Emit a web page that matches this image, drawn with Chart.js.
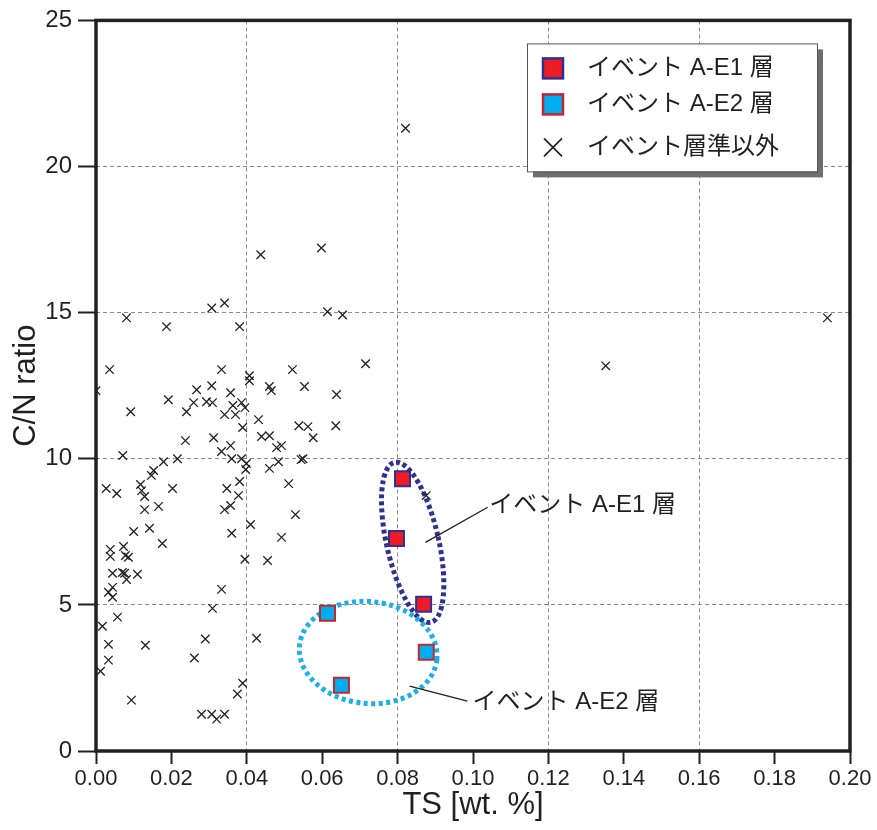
<!DOCTYPE html>
<html><head><meta charset="utf-8">
<script src="https://cdn.jsdelivr.net/npm/chart.js@4"></script>
<style>html,body{margin:0;padding:0;background:#fff}#wrap{width:877px;height:830px}</style>
</head><body><div id="wrap"><canvas id="c" width="877" height="830"></canvas></div>
<script>
// ---- data ----
const otherTS = [0.0821,0.194,0.1352,0.0598,0.0437,0.0614,0.0654,0.0307,0.0341,0.0081,0.0187,0.0381,0.0036,0.0333,0.0407,0.0407,0.046,0.0465,0.0,0.0267,0.0307,0.0357,0.0521,0.0715,0.0553,0.0638,0.0092,0.0192,0.0259,0.0293,0.0309,0.024,0.0363,0.0386,0.0395,0.0341,0.037,0.0431,0.0389,0.0439,0.046,0.0479,0.0492,0.0237,0.0312,0.0333,0.0357,0.036,0.0386,0.0399,0.0397,0.046,0.0484,0.0071,0.0179,0.0216,0.0153,0.0147,0.0027,0.0055,0.0118,0.0121,0.0129,0.0203,0.0347,0.0381,0.0378,0.0511,0.0129,0.0166,0.0341,0.0357,0.041,0.01,0.0142,0.036,0.0492,0.0176,0.0038,0.0038,0.0073,0.0078,0.0086,0.0395,0.0455,0.0538,0.0562,0.0636,0.0576,0.0544,0.0549,0.0529,0.0044,0.007,0.0076,0.0081,0.011,0.0044,0.0033,0.0044,0.0333,0.0309,0.0057,0.0017,0.0033,0.0131,0.0033,0.0012,0.029,0.0261,0.0426,0.0389,0.0375,0.0094,0.028,0.0307,0.032,0.0341,0.0876];
const otherCN = [21.31,14.82,13.18,17.21,16.98,15.03,14.92,15.16,15.33,14.82,14.52,14.52,13.05,13.05,12.84,12.67,12.47,12.33,12.33,12.36,12.5,12.26,13.05,13.25,12.47,12.2,11.61,12.02,11.92,11.95,11.92,11.61,11.82,11.92,11.75,11.51,11.51,11.34,11.07,10.76,10.79,10.38,10.45,10.62,10.72,10.25,10.45,10.0,10.0,9.84,9.63,9.67,9.9,10.11,9.9,10.0,9.6,9.43,8.98,8.81,9.12,8.91,8.71,8.98,8.98,9.22,8.74,9.15,8.26,8.37,8.26,8.4,7.75,7.51,7.62,7.45,7.31,7.1,6.9,6.66,7.0,6.69,6.63,6.56,6.52,11.13,11.1,11.13,10.72,9.97,10.0,8.09,6.08,6.11,6.08,5.87,6.05,5.6,5.43,5.26,5.53,4.88,4.58,4.27,3.65,3.62,3.11,2.73,3.83,3.18,3.86,2.32,1.95,1.74,1.26,1.26,1.09,1.26,8.74];
const e1TS = [0.0813,0.0797,0.0869];
const e1CN = [9.32,7.27,5.02];
const e2TS = [0.0614,0.0876,0.0651];
const e2CN = [4.71,3.38,2.25];
const xTickLabels = ['0.00','0.02','0.04','0.06','0.08','0.10','0.12','0.14','0.16','0.18','0.20'];
const yTickLabels = ['0','5','10','15','20','25'];
const seriesNames = ['イベント A-E1 層','イベント A-E2 層','イベント層準以外'];
const xTitle = 'TS [wt. %]';
const yTitle = 'C/N ratio';

const BLACK = '#231f20';
const NAVY = '#2e3192';
const RED = '#ed1c24';
const CYAN = '#00aeef';
const CRIMSON = '#c1272d';
const LAT = '"Liberation Sans", Arial, sans-serif';
const JP = '"Liberation Sans", "Noto Sans CJK JP", sans-serif';

const pts = (xs, ys) => xs.map((v, i) => ({x: v, y: ys[i]}));

const decor = {
  id: 'decor',
  beforeDatasetsDraw(chart) {
    const {ctx, scales: {x, y}} = chart;
    ctx.save();
    ctx.lineWidth = 5;
    ctx.setLineDash([4, 3]);
    ctx.strokeStyle = NAVY;
    ctx.beginPath();
    ctx.ellipse(x.getPixelForValue(0.084), y.getPixelForValue(7.14), 26, 82, -0.223, 0, Math.PI * 2);
    ctx.stroke();
    ctx.strokeStyle = '#1ab0ea';
    ctx.setLineDash([4, 3.5]);
    ctx.beginPath();
    ctx.ellipse(x.getPixelForValue(0.0722), y.getPixelForValue(3.37), 69, 51, 0.1, 0, Math.PI * 2);
    ctx.stroke();
    ctx.restore();
  },
  afterDraw(chart) {
    const {ctx, chartArea: a, scales: {x, y}} = chart;
    ctx.save();
    ctx.strokeStyle = BLACK;
    ctx.lineWidth = 3.5;
    ctx.setLineDash([]);
    ctx.strokeRect(a.left, a.top, a.right - a.left, a.bottom - a.top);

    ctx.lineWidth = 1.3;
    ctx.strokeStyle = BLACK;
    ctx.beginPath();
    ctx.moveTo(x.getPixelForValue(0.0874), y.getPixelForValue(7.14));
    ctx.lineTo(x.getPixelForValue(0.1039), y.getPixelForValue(8.34));
    ctx.moveTo(x.getPixelForValue(0.0832), y.getPixelForValue(2.22));
    ctx.lineTo(x.getPixelForValue(0.0985), y.getPixelForValue(1.71));
    ctx.stroke();
    ctx.fillStyle = BLACK;
    ctx.font = '24px ' + JP;
    ctx.textAlign = 'left';
    ctx.textBaseline = 'middle';
    ctx.fillText(seriesNames[0], x.getPixelForValue(0.1043), y.getPixelForValue(8.40));
    ctx.fillText(seriesNames[1], x.getPixelForValue(0.0999), y.getPixelForValue(1.67));

    const L = a.right - 323, T = a.top + 23, W = 290, H = 128;
    ctx.fillStyle = '#6d6e71';
    ctx.fillRect(L + 6, T + 6, W, H);
    ctx.fillStyle = '#fff';
    ctx.fillRect(L, T, W, H);
    ctx.lineWidth = 1;
    ctx.strokeStyle = '#555';
    ctx.strokeRect(L + 0.5, T + 0.5, W, H);
    const mx = L + 26, tx = L + 60;
    const rows = [T + 25, T + 61, T + 104];
    ctx.fillStyle = RED; ctx.fillRect(mx - 10, rows[0] - 10, 20, 20);
    ctx.lineWidth = 2.5; ctx.strokeStyle = NAVY; ctx.strokeRect(mx - 10, rows[0] - 10, 20, 20);
    ctx.fillStyle = CYAN; ctx.fillRect(mx - 10, rows[1] - 10, 20, 20);
    ctx.strokeStyle = CRIMSON; ctx.strokeRect(mx - 10, rows[1] - 10, 20, 20);
    ctx.lineWidth = 1.6; ctx.strokeStyle = BLACK;
    ctx.beginPath();
    ctx.moveTo(mx - 9, rows[2] - 9); ctx.lineTo(mx + 9, rows[2] + 9);
    ctx.moveTo(mx + 9, rows[2] - 9); ctx.lineTo(mx - 9, rows[2] + 9);
    ctx.stroke();
    ctx.fillStyle = BLACK;
    ctx.font = '24px ' + JP;
    seriesNames.forEach((s, i) => ctx.fillText(s, tx, rows[i]));
    ctx.restore();
  }
};

const gridX = c => {
  if (!c.tick) return 'rgba(0,0,0,0)';
  const k = Math.round(c.tick.value * 100);
  return (k % 4 === 0 && k > 0 && k < 20) ? '#8a8a8a' : 'rgba(0,0,0,0)';
};
const gridY = c => {
  if (!c.tick) return 'rgba(0,0,0,0)';
  const v = Math.round(c.tick.value);
  return (v > 0 && v < 25) ? '#8a8a8a' : 'rgba(0,0,0,0)';
};

new Chart(document.getElementById('c'), {
  type: 'scatter',
  data: {
    datasets: [
      {label: seriesNames[2], data: pts(otherTS, otherCN), pointStyle: 'crossRot', radius: 6,
       borderColor: BLACK, backgroundColor: BLACK, borderWidth: 1.3},
      {label: seriesNames[0], data: pts(e1TS, e1CN), pointStyle: 'rect', radius: 10.6,
       backgroundColor: RED, borderColor: NAVY, borderWidth: 2},
      {label: seriesNames[1], data: pts(e2TS, e2CN), pointStyle: 'rect', radius: 10.6,
       backgroundColor: CYAN, borderColor: CRIMSON, borderWidth: 2}
    ]
  },
  options: {
    responsive: false,
    animation: false,
    devicePixelRatio: 1,
    layout: {padding: {left: 0, right: 27, top: 19, bottom: 0}},
    plugins: {legend: {display: false}, tooltip: {enabled: false}},
    scales: {
      x: {
        type: 'linear', min: 0, max: 0.2,
        afterFit: s => { s.height = 79; },
        ticks: {stepSize: 0.02, autoSkip: false, maxRotation: 0, padding: 2,
                color: BLACK, font: {family: LAT, size: 22},
                callback: (v) => xTickLabels[Math.round(v * 50)]},
        grid: {color: gridX, lineWidth: 1, tickLength: 13, tickColor: BLACK, tickWidth: 2},
        border: {display: false, dash: [4, 3]},
        title: {display: true, text: xTitle, color: BLACK, font: {family: LAT, size: 31, lineHeight: 1.1},
                padding: {top: 0, bottom: 7}}
      },
      y: {
        type: 'linear', min: 0, max: 25,
        afterFit: s => { s.width = 96; },
        ticks: {stepSize: 5, padding: 6, color: BLACK, font: {family: LAT, size: 24},
                callback: (v) => yTickLabels[Math.round(v / 5)]},
        grid: {color: gridY, lineWidth: 1, tickLength: 18, tickColor: BLACK, tickWidth: 2},
        border: {display: false, dash: [4, 3]},
        title: {display: true, text: yTitle, color: BLACK, font: {family: LAT, size: 31},
                padding: {top: 8, bottom: 0}}
      }
    }
  },
  plugins: [decor]
});
</script></body></html>
